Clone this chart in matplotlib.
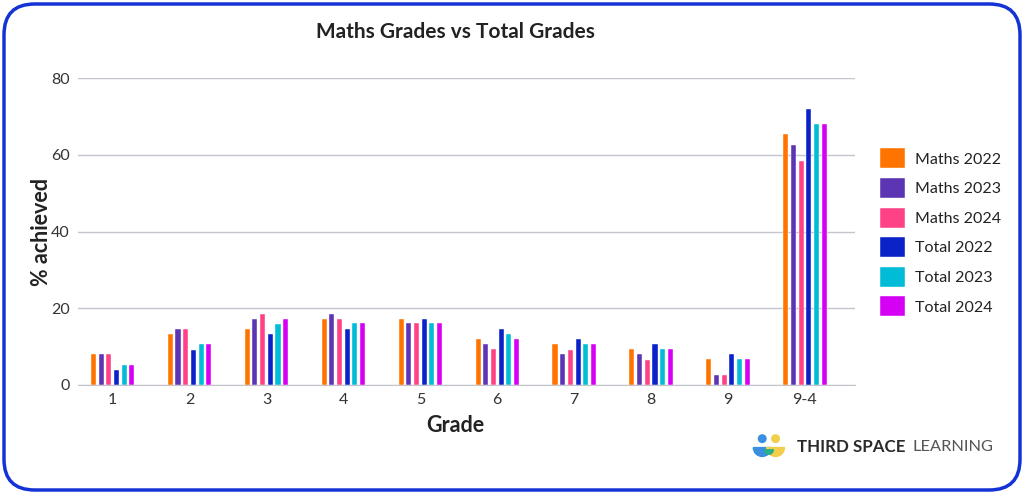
import matplotlib.pyplot as plt
import numpy as np
from matplotlib.patches import FancyBboxPatch, Circle, Wedge

plt.rcParams['font.family'] = ['Lato', 'DejaVu Sans']

grades = ["1", "2", "3", "4", "5", "6", "7", "8", "9", "9-4"]
series = ["Maths 2022", "Maths 2023", "Maths 2024", "Total 2022", "Total 2023", "Total 2024"]
maths_2022 = [8.0, 13.2, 14.5, 17.3, 17.3, 12.0, 10.6, 9.3, 6.7, 65.3]
maths_2023 = [8.0, 14.5, 17.2, 18.6, 16.1, 10.7, 8.0, 8.0, 2.6, 62.6]
maths_2024 = [8.0, 14.5, 18.5, 17.3, 16.1, 9.3, 9.2, 6.6, 2.6, 58.5]
total_2022 = [4.0, 9.2, 13.2, 14.7, 17.3, 14.7, 11.9, 10.6, 8.0, 71.9]
total_2023 = [5.3, 10.6, 15.9, 16.1, 16.1, 13.4, 10.6, 9.3, 6.7, 68.0]
total_2024 = [5.3, 10.6, 17.2, 16.1, 16.1, 12.0, 10.6, 9.3, 6.7, 68.0]
colors = ["#FF7300", "#5C35B5", "#FF4285", "#0A22C8", "#00BCD6", "#D600F5"]

values = [maths_2022, maths_2023, maths_2024, total_2022, total_2023, total_2024]

fig = plt.figure(figsize=(10.24, 4.94), dpi=100)
ax = fig.add_axes([78 / 1024, 1 - 385 / 494, (855 - 78) / 1024, (385 - 78) / 494])

x = np.arange(len(grades))
step = 0.1
width = 0.066
for i, (name, vals, c) in enumerate(zip(series, values, colors)):
    ax.bar(x + (i - 2.5) * step, vals, width, color=c, label=name,
           edgecolor="white", linewidth=0.3)

ax.set_xlim(-0.45, 9.65)
ax.set_ylim(0, 80)
ax.set_yticks([0, 20, 40, 60, 80])
ax.set_xticks(x)
ax.set_xticklabels(grades)
ax.grid(axis="y", color="#c4c4cc", linewidth=1)
ax.set_axisbelow(True)
for s in ["top", "right", "left"]:
    ax.spines[s].set_visible(False)
ax.spines["bottom"].set_color("#c4c4cc")
ax.tick_params(axis="both", length=0, labelsize=11.5, colors="#333333")
ax.tick_params(axis="y", pad=6)
ax.tick_params(axis="x", pad=6)

ax.set_xlabel("Grade", fontsize=15.5, fontweight="bold", color="#222222")
ax.xaxis.set_label_coords((455 - 78) / 777, -(425 - 385) / 307 - 0.0)
ax.xaxis.label.set_va("center")
ax.set_ylabel("% achieved", fontsize=15.5, fontweight="bold", color="#222222")
ax.yaxis.set_label_coords((42 - 78) / 777, (385 - 232) / 307)
ax.yaxis.label.set_va("center")
fig.text(455 / 1024, 1 - 32 / 494, "Maths Grades vs Total Grades", fontsize=15,
         fontweight="bold", ha="center", va="center", color="#222222")

leg = fig.legend(loc="upper left", bbox_to_anchor=(866 / 1024, 1 - 134 / 494),
                 frameon=False, fontsize=11.5, handlelength=1.55, handleheight=1.55,
                 labelspacing=0.6, handletextpad=0.6)
for t in leg.get_texts():
    t.set_color("#222222")

# rounded border
border = FancyBboxPatch((4 / 1024, 4 / 494), 1016 / 1024, 486 / 494,
                        boxstyle="round,pad=0,rounding_size=0.03",
                        transform=fig.transFigure, fill=False,
                        edgecolor="#1433D6", linewidth=2.5, mutation_aspect=1024 / 494)
fig.patches.append(border)

# logo
lx = fig.add_axes([752 / 1024, 1 - 462 / 494, 36 / 1024, 30 / 494])
lx.set_xlim(0, 32)
lx.set_ylim(0, 27)
lx.set_aspect("equal")
lx.axis("off")
lx.add_patch(Wedge((9, 13), 8, 180, 360, color="#3A8FE0"))
lx.add_patch(Wedge((21, 13), 8, 180, 360, color="#F2CF4A"))
lx.add_patch(Wedge((15, 11), 4, 180, 360, color="#2BAF8A"))
lx.add_patch(Circle((9, 21), 3.4, color="#3A8FE0"))
lx.add_patch(Circle((21, 21), 3.4, color="#F2CF4A"))
fig.text(797 / 1024, 1 - 447 / 494, "THIRD SPACE", fontsize=12.2, fontweight="bold",
         color="#2a2a2a", va="center", ha="left")
fig.text(913 / 1024, 1 - 447 / 494, "LEARNING", fontsize=11.8, color="#555555",
         va="center", ha="left")

fig.savefig("out.png", dpi=100)
